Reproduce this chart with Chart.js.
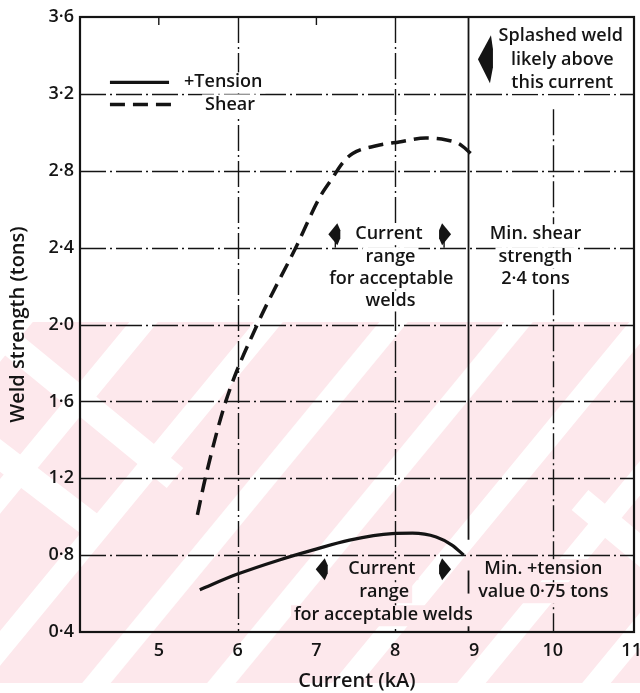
<!DOCTYPE html>
<html><head><meta charset="utf-8">
<script src="https://cdn.jsdelivr.net/npm/chart.js@4/dist/chart.umd.min.js"></script>
<style>html,body{margin:0;padding:0;background:#fff}#wrap{width:640px;height:693px;position:relative}</style>
</head><body><div id="wrap"><canvas id="c"></canvas></div>
<script>
// ---- data ----
const seriesNames = ['+Tension', 'Shear'];
const tensionX = [5.52, 5.99, 6.53, 6.95, 7.42, 7.96, 8.22, 8.52, 8.72, 8.87];
const tensionY = [0.62, 0.70, 0.775, 0.826, 0.878, 0.912, 0.914, 0.894, 0.852, 0.80];
const shearX = [5.49, 5.59, 5.85, 6.25, 6.75, 7.04, 7.20, 7.33, 7.46, 7.76, 8.05, 8.39, 8.65, 8.81, 8.96];
const shearY = [1.01, 1.20, 1.60, 2.00, 2.41, 2.66, 2.76, 2.84, 2.89, 2.93, 2.95, 2.97, 2.96, 2.94, 2.89];
const xTickValues = [5, 6, 7, 8, 9, 10, 11];
const xTickLabels = ['5', '6', '7', '8', '9', '10', '11'];
const yTickValues = [0.4, 0.8, 1.2, 1.6, 2.0, 2.4, 2.8, 3.2, 3.6];
const yTickLabels = ['0·4', '0·8', '1·2', '1·6', '2·0', '2·4', '2·8', '3·2', '3·6'];
const gridYValues = [0.8, 1.2, 1.6, 2.0, 2.4, 2.8, 3.2];
const gridXDashed = [6, 8, 10];
const limitLineX = [8.93];   // splash-limit current (solid vertical line)

const INK = '#141414';
const PINK = '#fde8ec';
const FONT = '"Open Sans", Lato, sans-serif';
const FS = 18;
const FW = '600';

// annotation texts (positions in data units)
const notes = [
  {x: 10.1, y: 3.50, t: 'Splashed weld', bg: '#fff'},
  {x: 10.12, y: 3.378, t: 'likely above', bg: '#fff'},
  {x: 10.12, y: 3.258, t: 'this current', bg: '#fff'},
  {x: 7.92, y: 2.47, t: 'Current', bg: '#fff'},
  {x: 7.94, y: 2.35, t: 'range', bg: '#fff'},
  {x: 7.95, y: 2.24, t: 'for acceptable', bg: '#fff'},
  {x: 7.94, y: 2.125, t: 'welds', bg: '#fff'},
  {x: 9.78, y: 2.47, t: 'Min. shear', bg: '#fff'},
  {x: 9.78, y: 2.35, t: 'strength', bg: '#fff'},
  {x: 9.78, y: 2.24, t: '2·4 tons', bg: '#fff'},
  {x: 7.83, y: 0.727, t: 'Current', bg: PINK},
  {x: 7.86, y: 0.607, t: 'range', bg: PINK},
  {x: 7.85, y: 0.487, t: 'for acceptable welds', bg: PINK},
  {x: 9.88, y: 0.727, t: 'Min. +tension', bg: PINK},
  {x: 9.88, y: 0.607, t: 'value 0·75 tons', bg: PINK}
];
// small arrow heads: dir -1 = left, +1 = right
const arrows = [
  {x: 7.24, y: 2.47, dir: -1, stem: 2.40},
  {x: 8.62, y: 2.47, dir: 1, stem: 2.40},
  {x: 7.08, y: 0.727, dir: -1},
  {x: 8.62, y: 0.727, dir: 1}
];

const toPts = (xs, ys) => xs.map((v, i) => ({x: v, y: ys[i]}));

const bgPlugin = {
  id: 'bgWatermark',
  beforeDraw(chart) {
    const ctx = chart.ctx, W = chart.width;
    ctx.save();
    ctx.fillStyle = '#fff';
    ctx.fillRect(0, 0, W, chart.height);
    const top = 322, bot = 683;
    ctx.fillStyle = PINK;
    ctx.fillRect(0, top, W, bot - top);
    ctx.beginPath(); ctx.rect(0, top, W, bot - top); ctx.clip();
    ctx.strokeStyle = '#fff'; ctx.lineCap = 'butt';
    ctx.lineWidth = 22;
    for (let x0 = -420; x0 < 900; x0 += 125) {
      ctx.beginPath(); ctx.moveTo(x0, bot + 20); ctx.lineTo(x0 + 330, top - 20); ctx.stroke();
    }
    ctx.lineWidth = 26;
    ctx.beginPath(); ctx.moveTo(-20, 318); ctx.lineTo(175, 478); ctx.stroke();
    ctx.beginPath(); ctx.moveTo(-20, 440); ctx.lineTo(100, 532); ctx.stroke();
    ctx.beginPath(); ctx.moveTo(580, 500); ctx.lineTo(700, 600); ctx.stroke();
    ctx.restore();
  }
};

function vline(ctx, px, y1, y2) { ctx.beginPath(); ctx.moveTo(px, y1); ctx.lineTo(px, y2); ctx.stroke(); }
function hline(ctx, py, x1, x2) { ctx.beginPath(); ctx.moveTo(x1, py); ctx.lineTo(x2, py); ctx.stroke(); }

const drawPlugin = {
  id: 'gridNotes',
  beforeDatasetsDraw(chart) {
    const ctx = chart.ctx, a = chart.chartArea, xs = chart.scales.x, ys = chart.scales.y;
    ctx.save();
    ctx.strokeStyle = INK;
    ctx.lineWidth = 1.4;
    ctx.setLineDash([26, 4, 2, 4]);
    gridYValues.forEach(v => hline(ctx, Math.round(ys.getPixelForValue(v)) + 0.5, a.left, a.right));
    gridXDashed.forEach(v => {
      const px = Math.round(xs.getPixelForValue(v)) + 0.5;
      const top = v === 10 ? ys.getPixelForValue(3.12) : a.top;
      vline(ctx, px, top, a.bottom);
    });
    ctx.setLineDash([]);
    ctx.lineWidth = 1.8;
    limitLineX.forEach(v => {
      const px = xs.getPixelForValue(v);
      vline(ctx, px, a.top, ys.getPixelForValue(0.88));
      vline(ctx, px, ys.getPixelForValue(0.72), ys.getPixelForValue(0.60));
      vline(ctx, px, ys.getPixelForValue(0.44), a.bottom);
    });
    ctx.lineWidth = 1.4;
    [5, 7].forEach(v => vline(ctx, xs.getPixelForValue(v), a.top, a.top + 8));
    ctx.lineWidth = 2.2;
    ctx.strokeRect(a.left, a.top, a.right - a.left, a.bottom - a.top);

    ctx.font = FW + ' ' + FS + 'px ' + FONT;
    ctx.textAlign = 'center'; ctx.textBaseline = 'middle';
    notes.forEach(n => {
      const px = xs.getPixelForValue(n.x), py = ys.getPixelForValue(n.y);
      const w = ctx.measureText(n.t).width;
      ctx.fillStyle = n.bg;
      ctx.fillRect(px - w / 2 - 3, py - 10, w + 6, 21);
    });
    ctx.fillStyle = INK;
    notes.forEach(n => ctx.fillText(n.t, xs.getPixelForValue(n.x), ys.getPixelForValue(n.y)));

    arrows.forEach(r => {
      const px = xs.getPixelForValue(r.x), py = ys.getPixelForValue(r.y);
      ctx.beginPath();
      ctx.moveTo(px + r.dir * 7, py);
      ctx.lineTo(px - r.dir * 2, py - 11);
      ctx.lineTo(px - r.dir * 5, py - 4);
      ctx.lineTo(px - r.dir * 5, py + 4);
      ctx.lineTo(px - r.dir * 2, py + 11);
      ctx.closePath(); ctx.fill();
      if (r.stem !== undefined) { ctx.lineWidth = 1.4; vline(ctx, px, py, ys.getPixelForValue(r.stem)); }
    });
    {
      const px = xs.getPixelForValue(9.05), py = ys.getPixelForValue(3.38);
      ctx.beginPath();
      ctx.moveTo(px, py);
      ctx.lineTo(px + 13, py - 24);
      ctx.lineTo(px + 15, py - 10);
      ctx.lineTo(px + 15, py + 8);
      ctx.lineTo(px + 12, py + 24);
      ctx.closePath(); ctx.fill();
    }

    const ds = chart.data.datasets;
    const lx1 = xs.getPixelForValue(4.38), lx2 = xs.getPixelForValue(5.13);
    const ly = [ys.getPixelForValue(3.26), ys.getPixelForValue(3.145)];
    ds.forEach((d, i) => {
      ctx.lineWidth = d.borderWidth; ctx.setLineDash(d.borderDash || []);
      hline(ctx, ly[i], lx1, i === 0 ? lx2 : lx2 + 8);
      ctx.setLineDash([]);
      const tx = i === 0 ? lx2 + 15 : lx2 + 36;
      const w = ctx.measureText(d.label).width;
      ctx.fillStyle = '#fff'; ctx.fillRect(tx - 3, ly[i] - 10, w + 6, 21);
      ctx.fillStyle = INK; ctx.textAlign = 'left';
      ctx.fillText(d.label, tx, ly[i]);
    });
    ctx.restore();
  }
};

new Chart(document.getElementById('c'), {
  type: 'scatter',
  data: {
    datasets: [
      {label: seriesNames[0], data: toPts(tensionX, tensionY), showLine: true, borderColor: INK,
       borderWidth: 3.2, pointRadius: 0, cubicInterpolationMode: 'monotone', borderCapStyle: 'butt'},
      {label: seriesNames[1], data: toPts(shearX, shearY), showLine: true, borderColor: INK,
       borderWidth: 3.5, borderDash: [15, 8], pointRadius: 0, cubicInterpolationMode: 'monotone', borderCapStyle: 'butt'}
    ]
  },
  options: {
    responsive: true, maintainAspectRatio: false, animation: false,
    layout: {padding: {top: 17, right: 6, left: 0, bottom: 0}},
    plugins: {legend: {display: false}, tooltip: {enabled: false}},
    scales: {
      x: {
        type: 'linear', min: 4, max: 11.03,
        afterBuildTicks: s => { s.ticks = xTickValues.map(v => ({value: v})); },
        afterFit: s => { s.height = 61; s.paddingLeft = 0; s.paddingRight = 0; },
        grid: {display: false, drawTicks: false}, border: {display: false},
        ticks: {padding: 8, color: INK, font: {family: FONT, size: FS, weight: FW},
                callback: (v) => { const i = xTickValues.indexOf(v); return i >= 0 ? xTickLabels[i] : ''; }},
        title: {display: true, text: 'Current (kA)', color: INK, font: {family: FONT, size: 20, weight: FW}, padding: {top: 1, bottom: 0}}
      },
      y: {
        type: 'linear', min: 0.4, max: 3.6,
        afterBuildTicks: s => { s.ticks = yTickValues.map(v => ({value: v})); },
        afterFit: s => { s.width = 80; s.paddingTop = 0; s.paddingBottom = 0; },
        grid: {display: false, drawTicks: false}, border: {display: false},
        ticks: {padding: 6, color: INK, font: {family: FONT, size: FS, weight: FW},
                callback: (v) => { const i = yTickValues.findIndex(t => Math.abs(t - v) < 1e-6); return i >= 0 ? yTickLabels[i] : ''; }},
        title: {display: true, text: 'Weld strength (tons)', color: INK, font: {family: FONT, size: 20, weight: FW}, padding: {top: 6, bottom: 0}}
      }
    }
  },
  plugins: [bgPlugin, drawPlugin]
});
</script>
</body></html>
